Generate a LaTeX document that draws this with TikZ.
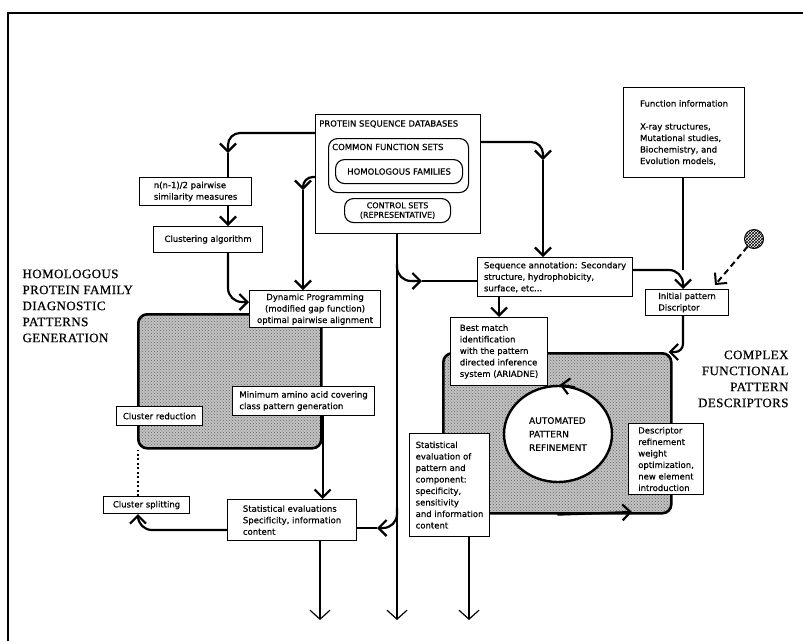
\documentclass[tikz,border=0pt]{standalone}
\usepackage{fontspec}
\setmainfont{DejaVu Sans}[FakeBold=0.5]
\newfontfamily\headfont{Liberation Serif}[FakeBold=0.6, LetterSpace=3]
\usepackage{tikz}
\usetikzlibrary{arrows.meta,calc,shapes.geometric,patterns}

\tikzset{
    box/.style={draw, fill=white, line width=1.1pt, anchor=north west, inner xsep=2.5pt, inner ysep=3pt,
        align=left, font=\fontsize{8.5}{11.5}\selectfont},
    setbox/.style={draw, line width=1.1pt, rounded corners=9pt, anchor=north west, inner sep=2pt,
        font=\fontsize{8.5}{10}\selectfont},
    capstext/.style={anchor=west, inner sep=0pt, font=\fontsize{8.5}{10}\selectfont},
    panel/.style={draw, line width=2.6pt, rounded corners=9pt, anchor=north west,
        preaction={fill=black!24}, pattern=crosshatch dots, pattern color=black!60},
    heading/.style={align=left, font={\headfont\fontsize{13}{16}\selectfont}},
    link/.style={line width=2.2pt},
    flow/.style={line width=2.2pt, -{Straight Barb[length=8pt,width=16pt]}},
    outflow/.style={line width=2.2pt, -{Straight Barb[length=9pt,width=20pt,line width=1.2pt]}},
    dashflow/.style={line width=2pt, dash pattern=on 6pt off 4pt, -{Straight Barb[length=8pt,width=16pt]}},
    dotlink/.style={line width=2pt, dash pattern=on 2pt off 2.5pt},
}

\begin{document}
\begin{tikzpicture}[x=1pt, y=-1pt]

    \useasboundingbox (0,0) rectangle (803,641);
    \draw[line width=2.4pt] (8,641) -- (8,13) -- (803,13);

    % shaded working areas
    \node[panel, minimum width=183pt, minimum height=134pt] (leftpanel) at (137,313) {};
    \node[panel, minimum width=228pt, minimum height=160pt] (rightpanel) at (442,352) {};

    % databases
    \node[box, minimum width=165pt, minimum height=119pt] (psd) at (315,114) {};
    \node[capstext] (psdtitle) at (319,124) {PROTEIN SEQUENCE DATABASES};
    \node[setbox, minimum width=140pt, minimum height=54pt] (common) at (328,138) {};
    \node[capstext] (commontitle) at (332,147) {COMMON FUNCTION SETS};
    \node[setbox, minimum width=127pt, minimum height=24pt] (homfam) at (335,159) {HOMOLOGOUS FAMILIES};
    \node[setbox, minimum width=106pt, minimum height=24pt, align=center, font=\fontsize{8}{9.5}\selectfont]
        (ctrl) at (344,198) {CONTROL SETS\\(REPRESENTATIVE)};

    % family patterns
    \node[box, minimum width=112pt, minimum height=28pt] (pairwise) at (139,177) {n(n-1)/2 pairwise\\similarity measures};
    \node[box, minimum width=109pt, minimum height=26pt] (cluster) at (153,226) {Clustering algorithm};
    \node[box, align=center, minimum width=131pt, minimum height=37pt] (dynprog) at (249,290)
        {Dynamic Programming\\(modified gap function)\\optimal pairwise alignment};
    \node[box, minimum width=142pt, minimum height=29pt] (mincover) at (232,386) {Minimum amino acid covering\\class pattern generation};
    \node[box, minimum width=86pt, minimum height=19pt] (clred) at (116,406) {Cluster reduction};
    \node[box, minimum width=86pt, minimum height=17pt] (clsplit) at (103,496) {Cluster splitting};
    \node[box, minimum width=129pt, minimum height=41pt] (stateval) at (227,499)
        {Statistical evaluations\\Specificity, information\\content};

    % functional descriptors
    \node[box, minimum width=121pt, minimum height=90pt] (funcinfo) at (623,87)
        {Function information\\[11.5pt]X-ray structures,\\Mutational studies,\\Biochemistry, and\\Evolution models,};
    \node[box, minimum width=155pt, minimum height=39pt] (seqann) at (477,257)
        {Sequence annotation: Secondary\\structure, hydrophobicity,\\surface, etc...};
    \node[box, minimum width=83pt, minimum height=24pt] (initpat) at (645,289) {Initial pattern\\Discriptor};
    \node[box, minimum width=97pt, minimum height=68pt] (bestmatch) at (450,317)
        {Best match\\identification\\with the pattern\\directed inference\\system (ARIADNE)};
    \node[draw, ellipse, fill=white, line width=2.4pt, minimum width=108pt, minimum height=96pt, align=left,
        font=\fontsize{9}{13.5}\selectfont] (refine) at (558,434) {AUTOMATED\\PATTERN\\REFINEMENT};
    \node[box, minimum width=80pt, minimum height=103pt] (statpat) at (409,433)
        {Statistical\\evaluation of\\pattern and\\component:\\specificity,\\sensitivity\\and information\\content};
    \node[box, minimum width=75pt, minimum height=71pt] (descref) at (628,423)
        {Descriptor\\refinement\\weight\\optimization,\\new element\\introduction};
    \node[circle, draw, line width=1pt, pattern=crosshatch, minimum size=19pt] (blob) at (754,239) {};

    \node[heading, anchor=north west] (leftsec) at (19,266) {HOMOLOGOUS\\PROTEIN FAMILY\\DIAGNOSTIC\\PATTERNS\\GENERATION};
    \node[heading, anchor=north east, align=right] (rightsec) at (792,347) {COMPLEX\\FUNCTIONAL\\PATTERN\\DESCRIPTORS};

    \coordinate (c1) at (228,153);
    \coordinate (c3) at (240,302);
    \coordinate (c4) at (303,190);
    \coordinate (c6) at (138,530);
    \coordinate (c10) at (422,281);
    \coordinate (c11) at (377,528);
    \coordinate (c12) at (543,160);
    \coordinate (c13) at (683,270);
    \coordinate (c15) at (715,285);
    \coordinate (c19) at (632,512);
    \foreach \x [count=\i] in {320,397,469}
        \coordinate (out\i) at (\x,620);

    % left side
    \draw[flow, rounded corners=12pt] ($(psd.north west)+(0,19)$) -| (c1);
    \draw[link] (c1) -- (pairwise.north -| c1);
    \draw[flow] (pairwise.south -| c1) -- (cluster.north -| c1);
    \draw[flow, rounded corners=14pt] (cluster.south -| c1) |- (dynprog.west |- c3);
    \draw[flow, rounded corners=10pt] ($(psd.north west)+(0,63)$) -| (c4);
    \draw[flow] (c4) -- (dynprog.north -| c4);
    \draw[flow] (mincover.south -| leftpanel.east) -- (stateval.north -| leftpanel.east);
    \draw[flow, rounded corners=14pt] (stateval.west |- c6) -| (clsplit.south -| c6);
    \draw[dotlink] (clsplit.north -| c6) -- (leftpanel.south -| c6);

    % middle line and outputs
    \draw[outflow] (psd.south -| out2) -- (out2);
    \draw[flow, rounded corners=14pt] ($(psd.south -| out2)+(0,30)$) |- (c10);
    \draw[link] (c10) -- (seqann.west |- c10);
    \draw[flow, rounded corners=14pt] ($(c11 -| out2)+(0,-20)$) |- (c11);
    \draw[link] (c11) -- (stateval.east |- c11);
    \draw[outflow] (stateval.south -| out1) -- (out1);
    \draw[outflow] (statpat.south -| out3) -- (out3);

    % right side
    \draw[flow, rounded corners=12pt] ($(psd.north east)+(0,28)$) -| (c12);
    \draw[flow] (c12) -- (seqann.north -| c12);
    \draw[flow, rounded corners=14pt] (seqann.east |- c13) -| (initpat.north -| c13);
    \draw[link] (funcinfo.south -| c13) -- (c13);
    \draw[dashflow] (blob) -- (c15);
    \draw[flow, rounded corners=8pt] (initpat.south -| c13) |- ($(rightpanel.north east)+(-4,0)$);
    \draw[flow] (seqann.south -| bestmatch.north) -- (bestmatch.north);
    \draw[flow] (rightpanel.south) -- (c19);
    \draw[flow] (refine.70) -- (refine.88);

\end{tikzpicture}
\end{document}
